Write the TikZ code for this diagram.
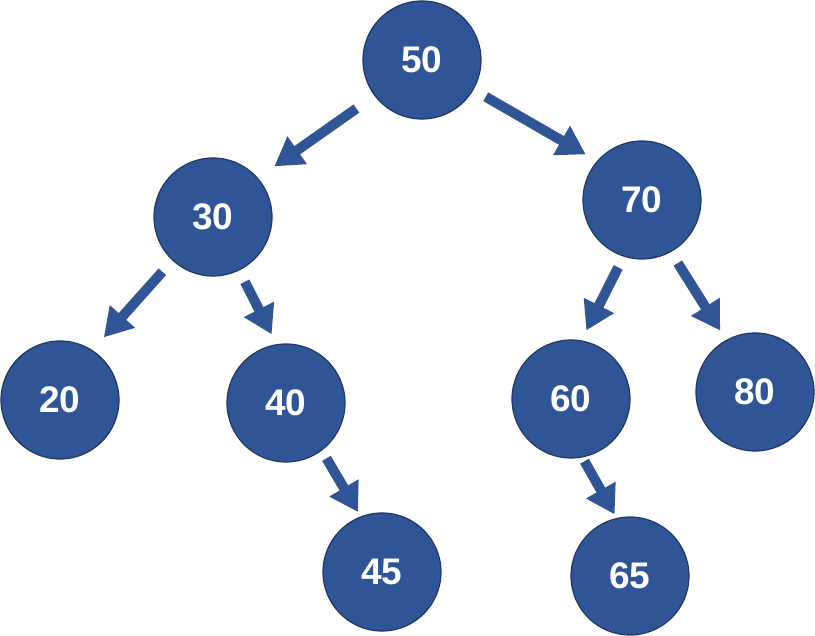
\documentclass[tikz,border=0pt]{standalone}
\usepackage{fontspec}
\setmainfont{Liberation Sans}
\usetikzlibrary{arrows.meta}
\definecolor{nodeblue}{HTML}{2F5597}
\definecolor{nodeedge}{HTML}{1F3864}
\tikzset{
  treenode/.style={circle, minimum size=118pt, inner sep=0pt, fill=nodeblue, draw=nodeedge, line width=1.2pt, text=white, font=\fontsize{37}{40}\selectfont\bfseries},
  treearrow/.style={draw=nodeblue, line width=10pt, -{Triangle[width=32pt,length=28pt]}}
}
\newcommand{\nlabel}[1]{\raisebox{-2pt}{#1}}
\begin{document}
\begin{tikzpicture}[x=1pt,y=-1pt]
\useasboundingbox (0,0) rectangle (815,636);
\node[treenode] (n50) at (422,60) {\nlabel{50}};
\node[treenode] (n30) at (213,217) {\nlabel{30}};
\node[treenode] (n70) at (642,200) {\nlabel{70}};
\node[treenode] (n20) at (60,400) {\nlabel{20}};
\node[treenode] (n40) at (286,403) {\nlabel{40}};
\node[treenode] (n60) at (571,399) {\nlabel{60}};
\node[treenode] (n80) at (755,392) {\nlabel{80}};
\node[treenode] (n45) at (382,572) {\nlabel{45}};
\node[treenode] (n65) at (630,576) {\nlabel{65}};
\draw[treearrow, shorten <=22pt, shorten >=20pt] (n50.217) -- (n30.41);
\draw[treearrow, shorten <=14pt, shorten >=13pt] (n50.330.6) -- (n70.139.5);
\draw[treearrow, shorten <=15pt, shorten >=17pt] (n30.227.7) -- (n20.57.4);
\draw[treearrow, shorten <=12.6pt, shorten >=11pt] (n30.296.6) -- (n40.99.9);
\draw[treearrow, shorten <=12pt, shorten >=11pt] (n70.252.8) -- (n60.80.1);
\draw[treearrow, shorten <=13pt, shorten >=11pt] (n70.299) -- (n80.119.8);
\draw[treearrow, shorten <=9pt, shorten >=5pt] (n40.307) -- (n45.111);
\draw[treearrow, shorten <=4.3pt, shorten >=4pt] (n60.281.8) -- (n65.103.8);
\end{tikzpicture}
\end{document}
